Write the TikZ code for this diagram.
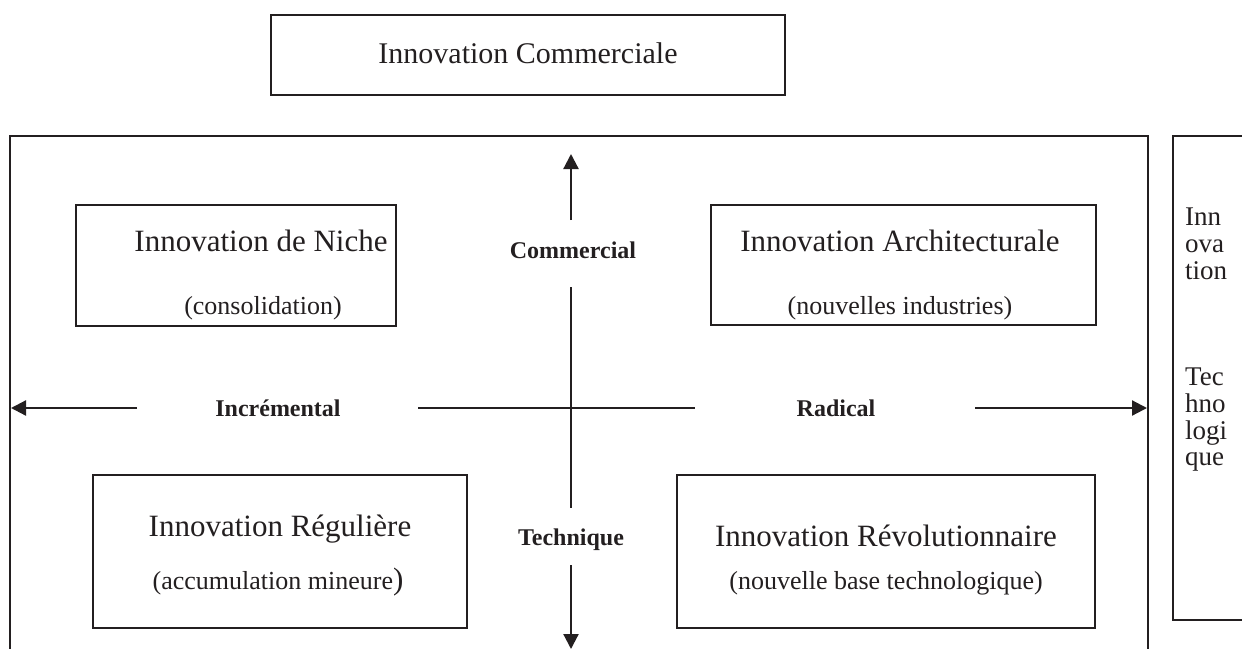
\documentclass[tikz,border=0pt]{standalone}
\usepackage{fontspec}
\setmainfont{Liberation Serif}
\usetikzlibrary{arrows.meta}
\definecolor{ink}{HTML}{231F20}
\begin{document}
\begin{tikzpicture}[x=1pt,y=-1pt,
  boxst/.style={draw=ink, line width=1.5pt, rectangle, inner sep=0pt},
  frame/.style={draw=ink, line width=1.5pt},
  titlest/.style={anchor=base, inner sep=0pt, text=ink, font=\fontsize{31}{36}\selectfont},
  subst/.style={anchor=base, inner sep=0pt, text=ink, font=\fontsize{26}{31}\selectfont},
  axlab/.style={anchor=base, inner sep=0pt, text=ink, font=\bfseries\fontsize{24}{29}\selectfont},
  sidest/.style={anchor=base west, inner sep=0pt, text=ink, font=\fontsize{27}{27}\selectfont},
  axisst/.style={draw=ink, line width=2.2pt},
  tipst/.style={-{Triangle[width=15pt,length=15pt]}}
]
\useasboundingbox (0,0) rectangle (1242,648);
\clip (0,0) rectangle (1242,648);

% top box
\node[boxst, minimum width=514pt, minimum height=80pt] (topbox) at (528,55) {};
\node[titlest, font=\fontsize{30}{36}\selectfont] (topT) at (528,63) {Innovation Commerciale};

% big frame
\coordinate (bfBL) at (10,670);
\coordinate (bfTL) at (10,136);
\coordinate (bfTR) at (1148,136);
\coordinate (bfBR) at (1148,670);
\draw[frame] (bfBL) -- (bfTL) -- (bfTR) -- (bfBR);

% right frame
\coordinate (rfTR) at (1260,136);
\coordinate (rfTL) at (1173,136);
\coordinate (rfBL) at (1173,620);
\coordinate (rfBR) at (1260,620);
\draw[frame] (rfTR) -- (rfTL) -- (rfBL) -- (rfBR);
\node[sidest] (s1) at (1185,225) {Inn};
\node[sidest] (s2) at (1185,252) {ova};
\node[sidest] (s3) at (1185,279) {tion};
\node[sidest] (s4) at (1185,385) {Tec};
\node[sidest] (s5) at (1185,412) {hno};
\node[sidest] (s6) at (1185,439) {logi};
\node[sidest] (s7) at (1185,465) {que};

% quadrant boxes
\node[boxst, minimum width=320pt, minimum height=121pt] (niche) at (236,265.5) {};
\node[titlest] (nicheT) at (261,251) {Innovation de Niche};
\node[subst] (nicheS) at (263,314) {(consolidation)};

\node[boxst, minimum width=385pt, minimum height=120pt] (arch) at (903.5,265) {};
\node[titlest] (archT) at (900,251) {Innovation Architecturale};
\node[subst] (archS) at (900,314) {(nouvelles industries)};

\node[boxst, minimum width=374pt, minimum height=153pt] (reg) at (280,551.5) {};
\node[titlest] (regT) at (280,536) {Innovation Régulière};
\node[subst] (regS) at (278,589) {(accumulation mineure\fontsize{31}{36}\selectfont)};

\node[boxst, minimum width=418pt, minimum height=153pt] (rev) at (886,551.5) {};
\node[titlest] (revT) at (886,546) {Innovation Révolutionnaire};
\node[subst] (revS) at (886,589) {(nouvelle base technologique)};

% axes
\node[axlab] (comm) at (573,258) {Commercial};
\node[axlab] (tech) at (571,545) {Technique};
\node[axlab] (incr) at (278,416) {Incrémental};
\node[axlab] (radi) at (836,416) {Radical};

\coordinate (vUpA) at (571,220);
\coordinate (vUpB) at (571,154);
\coordinate (vMidA) at (571,287);
\coordinate (vMidB) at (571,508);
\coordinate (vLoA) at (571,565);
\coordinate (vLoB) at (571,649);
\coordinate (hLA) at (137,408);
\coordinate (hLB) at (11,408);
\coordinate (hMA) at (418,408);
\coordinate (hMB) at (695,408);
\coordinate (hRA) at (975,408);
\coordinate (hRB) at (1147,408);

\draw[axisst, tipst] (vUpA) -- (vUpB);
\draw[axisst] (vMidA) -- (vMidB);
\draw[axisst, tipst] (vLoA) -- (vLoB);
\draw[axisst, tipst] (hLA) -- (hLB);
\draw[axisst] (hMA) -- (hMB);
\draw[axisst, tipst] (hRA) -- (hRB);
\end{tikzpicture}
\end{document}
